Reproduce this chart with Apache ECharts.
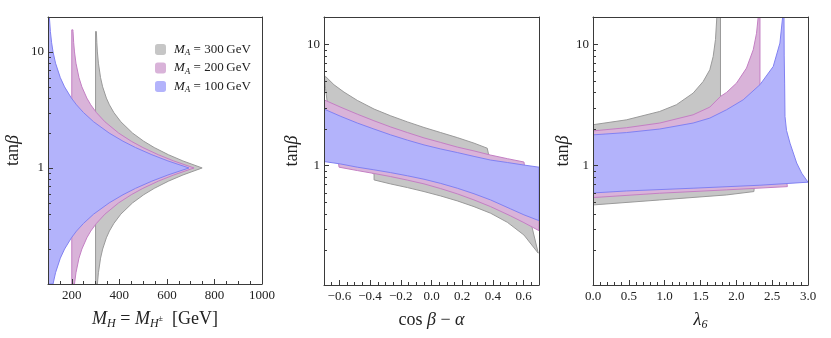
<!DOCTYPE html>
<html>
<head>
<meta charset="utf-8">
<script src="https://cdn.jsdelivr.net/npm/echarts@6/dist/echarts.min.js"></script>
<style>
  html, body { margin: 0; padding: 0; background: #fff; }
  #chart { width: 831px; height: 338px; }
</style>
</head>
<body>
<div id="chart"></div>
<script>
// ---- data: boundaries of the allowed regions, [x, tanβ] ----
// panel 1: M_H = M_H± [GeV]
const mhGray300 = [
  [300, 0.1], [300, 15], [303.5, 15], [305.4, 12], [307.7, 10], [312.0, 8], [321.0, 6], [329.8, 5],
  [345.5, 4], [358.3, 3.5], [377.1, 3], [406.4, 2.5], [455.5, 2], [502.6, 1.7], [546.7, 1.5],
  [606.7, 1.3], [667.4, 1.15], [748.3, 1], [667.4, 0.87], [606.7, 0.77], [546.7, 0.667],
  [502.6, 0.588], [455.5, 0.5], [406.4, 0.4], [377.1, 0.333], [358.3, 0.286], [345.5, 0.25],
  [329.8, 0.2], [321.0, 0.167], [312.0, 0.125], [307.7, 0.1]
];
const mhPink200 = [
  [200, 0.1], [200, 15.5], [204.8, 15.5], [205.2, 15], [208.0, 12], [211.4, 10], [217.6, 8], [230.3, 6],
  [242.5, 5], [263.4, 4], [279.9, 3.5], [303.7, 3], [339.4, 2.5], [396.9, 2], [450.1, 1.7],
  [498.9, 1.5], [564.0, 1.3], [628.8, 1.15], [714.1, 1], [628.8, 0.87], [564.0, 0.77],
  [498.9, 0.667], [450.1, 0.588], [396.9, 0.5], [339.4, 0.4], [303.7, 0.333], [279.9, 0.286],
  [263.4, 0.25], [242.5, 0.2], [230.3, 0.167], [217.6, 0.125], [211.4, 0.1]
];
const mhBlue100 = [
  [100, 0.1], [100, 20], [105.7, 20], [110.0, 15], [115.2, 12], [121.2, 10], [131.7, 8], [151.8, 6],
  [169.7, 5], [198.4, 4], [219.9, 3.5], [249.4, 3], [291.9, 2.5], [357.1, 2], [415.5, 1.7],
  [467.9, 1.5], [536.8, 1.3], [604.5, 1.15], [692.8, 1], [604.5, 0.87], [536.8, 0.77],
  [467.9, 0.667], [415.5, 0.588], [357.1, 0.5], [291.9, 0.4], [249.4, 0.333], [219.9, 0.286],
  [198.4, 0.25], [169.7, 0.2], [151.8, 0.167], [131.7, 0.125], [121.2, 0.1]
];

// panel 2: cos(β-α)
const cbaGray300 = [
  [-0.69, 5.42], [-0.635, 4.63], [-0.57, 4.03], [-0.483, 3.44], [-0.374, 2.92], [-0.266, 2.57],
  [-0.157, 2.29], [-0.049, 2.06], [0.06, 1.87], [0.168, 1.70], [0.277, 1.53], [0.363, 1.39],
  [0.372, 1.23], [0.40, 1.0], [0.62, 0.6], [0.655, 0.31], [0.695, 0.19],
  [0.602, 0.268], [0.494, 0.341], [0.385, 0.405], [0.277, 0.459], [0.168, 0.512], [0.06, 0.562],
  [-0.049, 0.611], [-0.157, 0.659], [-0.266, 0.706], [-0.374, 0.762], [-0.374, 0.85],
  [-0.60, 1.3], [-0.68, 3.0], [-0.68, 3.4], [-0.69, 4.3], [-0.697, 5.2]
];
const cbaPink200 = [
  [-0.70, 3.48], [-0.59, 3.02], [-0.483, 2.65], [-0.375, 2.34], [-0.266, 2.08], [-0.157, 1.87],
  [-0.049, 1.69], [0.06, 1.55], [0.168, 1.42], [0.277, 1.32], [0.385, 1.22], [0.494, 1.14],
  [0.602, 1.07], [0.606, 0.99], [0.70, 0.7], [0.70, 0.291],
  [0.602, 0.339], [0.515, 0.385], [0.385, 0.459], [0.277, 0.521], [0.168, 0.585], [0.06, 0.646],
  [-0.049, 0.707], [-0.157, 0.759], [-0.266, 0.812], [-0.375, 0.861], [-0.483, 0.91],
  [-0.602, 0.97], [-0.606, 1.06], [-0.70, 1.6]
];
const cbaBlue100 = [
  [-0.70, 2.92], [-0.59, 2.54], [-0.483, 2.24], [-0.375, 2.00], [-0.266, 1.79], [-0.157, 1.62],
  [-0.049, 1.48], [0.06, 1.37], [0.168, 1.28], [0.277, 1.19], [0.385, 1.11], [0.494, 1.06],
  [0.602, 1.01], [0.70, 0.97], [0.70, 0.352],
  [0.602, 0.393], [0.515, 0.44], [0.385, 0.521], [0.277, 0.586], [0.168, 0.651], [0.06, 0.713],
  [-0.049, 0.772], [-0.157, 0.824], [-0.266, 0.875], [-0.375, 0.923], [-0.483, 0.97],
  [-0.59, 1.03], [-0.70, 1.08]
];

// panel 3: λ6
const l6Gray300 = [
  [0, 2.17], [0.466, 2.38], [0.931, 2.79], [1.164, 3.17], [1.397, 3.95], [1.537, 4.92], [1.63, 6.15],
  [1.677, 7.92], [1.709, 10.9], [1.728, 16.7], [1.779, 16.7], [1.779, 3.71],
  [1.78, 1.2], [2.24, 0.75], [2.25, 0.66], [2.245, 0.611],
  [1.863, 0.573], [0.931, 0.521], [0, 0.474]
];
const l6Pink200 = [
  [0, 1.93], [0.466, 2.05], [0.931, 2.24], [1.397, 2.62], [1.63, 3.03], [1.779, 3.71], [1.863, 4.00],
  [2.003, 4.78], [2.142, 6.35], [2.236, 8.99], [2.282, 12.3], [2.305, 16.7], [2.33, 16.7],
  [2.33, 4.6], [2.33, 1.2], [2.70, 0.76], [2.712, 0.671],
  [1.863, 0.631], [0.931, 0.592], [0, 0.545]
];
const l6Blue100 = [
  [0, 1.79], [0.466, 1.87], [0.931, 2.00], [1.397, 2.24], [1.63, 2.46], [1.863, 2.88], [2.096, 3.48],
  [2.329, 4.63], [2.515, 6.55], [2.608, 10.2], [2.646, 16.7], [2.665, 16.7], [2.668, 8.0],
  [2.674, 4.78], [2.679, 2.54], [2.70, 1.95], [2.749, 1.53], [2.842, 1.05], [2.912, 0.866],
  [3.0, 0.73], [2.329, 0.689], [1.397, 0.651], [0.466, 0.618], [0, 0.595]
];

const legendNames = ['300', '200', '100'];
const minorLogTicks = [0.2, 0.3, 0.4, 0.5, 0.6, 0.7, 0.8, 0.9, 2, 3, 4, 5, 6, 7, 8, 9];

const FONT = 'Liberation Serif';
const INK = '#222';
const FRAME = '#3a3a3a';
const col = {
  gray: { fill: '#c6c6c6', edge: '#9a9a9a' },
  pink: { fill: '#d9b3d9', edge: '#c47fc4' },
  blue: { fill: '#b3b3fb', edge: '#8181f2' }
};

const grids = [
  { left: 48, top: 17, width: 214, height: 267 },
  { left: 324, top: 17, width: 215, height: 268 },
  { left: 593, top: 17, width: 215, height: 268 }
];
const xRange = [[100, 1000], [-0.7, 0.7], [0, 3]];
const yRange = [[0.1, 20], [0.1039, 16.73], [0.1039, 16.73]];

const rich = {
  i: { fontFamily: FONT, fontStyle: 'italic', fontSize: 18, color: INK, lineHeight: 22 },
  s: { fontFamily: FONT, fontStyle: 'italic', fontSize: 12, color: INK, verticalAlign: 'bottom', lineHeight: 22 },
  p: { fontFamily: FONT, fontSize: 8, color: INK, verticalAlign: 'middle', lineHeight: 22 },
  r: { fontFamily: FONT, fontSize: 18, color: INK, lineHeight: 22 }
};

function xAxisFor(gi, name, fmt, showMin, showMax, minorSplit, extra) {
  return Object.assign({
    gridIndex: gi, type: 'value', position: 'bottom', z: 10,
    min: xRange[gi][0], max: xRange[gi][1],
    name: name, nameLocation: 'middle', nameGap: 24,
    nameTextStyle: { fontFamily: FONT, fontSize: 18, color: INK, rich: rich },
    axisLine: { show: true, onZero: false, lineStyle: { color: FRAME, width: 1 } },
    axisTick: { show: true, inside: true, length: 5, lineStyle: { color: FRAME } },
    minorTick: { show: true, splitNumber: minorSplit, length: 3, lineStyle: { color: FRAME } },
    axisLabel: { fontFamily: FONT, fontSize: 13, color: INK, margin: 5, formatter: fmt,
      showMinLabel: showMin, showMaxLabel: showMax },
    splitLine: { show: false }
  }, extra || {});
}

function yAxisFor(gi, gap) {
  return {
    gridIndex: gi, type: 'log', logBase: 10, position: 'left', z: 10,
    min: yRange[gi][0], max: yRange[gi][1],
    name: '{r|tan}{i|β}', nameLocation: 'middle', nameRotate: 90, nameGap: gap,
    nameTextStyle: { fontFamily: FONT, fontSize: 18, color: INK, rich: rich },
    axisLine: { show: true, onZero: false, lineStyle: { color: FRAME, width: 1 } },
    axisTick: { show: true, inside: true, length: 5, lineStyle: { color: FRAME } },
    minorTick: { show: false },
    axisLabel: { fontFamily: FONT, fontSize: 13, color: INK, margin: 4,
      showMinLabel: false, showMaxLabel: false },
    splitLine: { show: false }
  };
}

function frameX(gi) {
  return { gridIndex: gi, type: 'value', position: 'top', z: 10, min: xRange[gi][0], max: xRange[gi][1],
    axisLine: { show: true, onZero: false, lineStyle: { color: FRAME, width: 1 } },
    axisTick: { show: false }, axisLabel: { show: false }, splitLine: { show: false } };
}
function frameY(gi) {
  return { gridIndex: gi, type: 'log', position: 'right', z: 10, min: yRange[gi][0], max: yRange[gi][1],
    axisLine: { show: true, onZero: false, lineStyle: { color: FRAME, width: 1 } },
    axisTick: { show: false }, axisLabel: { show: false }, splitLine: { show: false } };
}

function region(name, gi, pts, c) {
  return {
    type: 'custom', name: name, xAxisIndex: gi, yAxisIndex: gi,
    clip: true, silent: true, animation: false,
    itemStyle: { color: c.fill },
    data: [pts[0]],
    renderItem: function (params, api) {
      return {
        type: 'polygon',
        shape: { points: pts.map(function (p) { return api.coord(p); }) },
        style: { fill: c.fill, stroke: c.edge, lineWidth: 1, lineJoin: 'round' }
      };
    }
  };
}

function logTicks(gi) {
  const x0 = xRange[gi][0];
  return {
    type: 'custom', xAxisIndex: gi, yAxisIndex: gi, silent: true, animation: false, z: 10,
    data: minorLogTicks.map(function (v) { return [x0, v]; }),
    renderItem: function (params, api) {
      const p = api.coord([x0, api.value(1)]);
      const y = Math.round(p[1]) + 0.5;
      return { type: 'line', shape: { x1: p[0], y1: y, x2: p[0] + 3, y2: y },
        style: { stroke: FRAME, lineWidth: 1 } };
    }
  };
}

const fmt1 = function (v) { return String(v); };
const fmtSigned = function (v) {
  const s = Math.abs(v) < 1e-9 ? '0.0' : v.toFixed(1);
  return s.replace('-', '\u2212');
};
const fmtFixed = function (v) { return v.toFixed(1); };

const option = {
  backgroundColor: '#fff',
  animation: false,
  grid: grids.map(function (g) { return Object.assign({ show: false, outerBoundsMode: 'none' }, g); }),
  legend: {
    left: 150, top: 38, orient: 'vertical', itemWidth: 11, itemHeight: 11, itemGap: 4,
    icon: 'roundRect', selectedMode: false,
    itemStyle: { borderWidth: 0 },
    data: legendNames.map(function (n) { return 'MA' + n; }),
    formatter: function (n) { return '{m|M}{s|A}{t| = ' + n.slice(2) + '\u2009GeV}'; },
    textStyle: {
      fontFamily: FONT, fontSize: 13, color: INK,
      rich: {
        m: { fontFamily: FONT, fontStyle: 'italic', fontSize: 13, color: INK, padding: [0, 0, 0, 3], lineHeight: 16 },
        s: { fontFamily: FONT, fontStyle: 'italic', fontSize: 9, color: INK, verticalAlign: 'bottom', lineHeight: 16 },
        t: { fontFamily: FONT, fontSize: 13, color: INK, lineHeight: 16 }
      }
    }
  },
  xAxis: [
    xAxisFor(0, '{i|M}{s|H}{r| = }{i|M}{s|H}{p|±}{r|  [GeV]}', fmt1, false, true, 4),
    xAxisFor(1, '{r|cos }{i|β}{r| − }{i|α}', fmtSigned, false, false, 4, { splitNumber: 7 }),
    xAxisFor(2, '{i|λ}{s|6}', fmtFixed, true, true, 5, { interval: 0.5 }),
    frameX(0), frameX(1), frameX(2)
  ],
  yAxis: [
    yAxisFor(0, 24), yAxisFor(1, 21), yAxisFor(2, 17),
    frameY(0), frameY(1), frameY(2)
  ],
  series: [
    region('MA300', 0, mhGray300, col.gray),
    region('MA200', 0, mhPink200, col.pink),
    region('MA100', 0, mhBlue100, col.blue),
    region('MA300', 1, cbaGray300, col.gray),
    region('MA200', 1, cbaPink200, col.pink),
    region('MA100', 1, cbaBlue100, col.blue),
    region('MA300', 2, l6Gray300, col.gray),
    region('MA200', 2, l6Pink200, col.pink),
    region('MA100', 2, l6Blue100, col.blue),
    logTicks(0), logTicks(1), logTicks(2)
  ]
};

const chart = echarts.init(document.getElementById('chart'), null, { renderer: 'canvas' });
chart.setOption(option);
</script>
</body>
</html>
